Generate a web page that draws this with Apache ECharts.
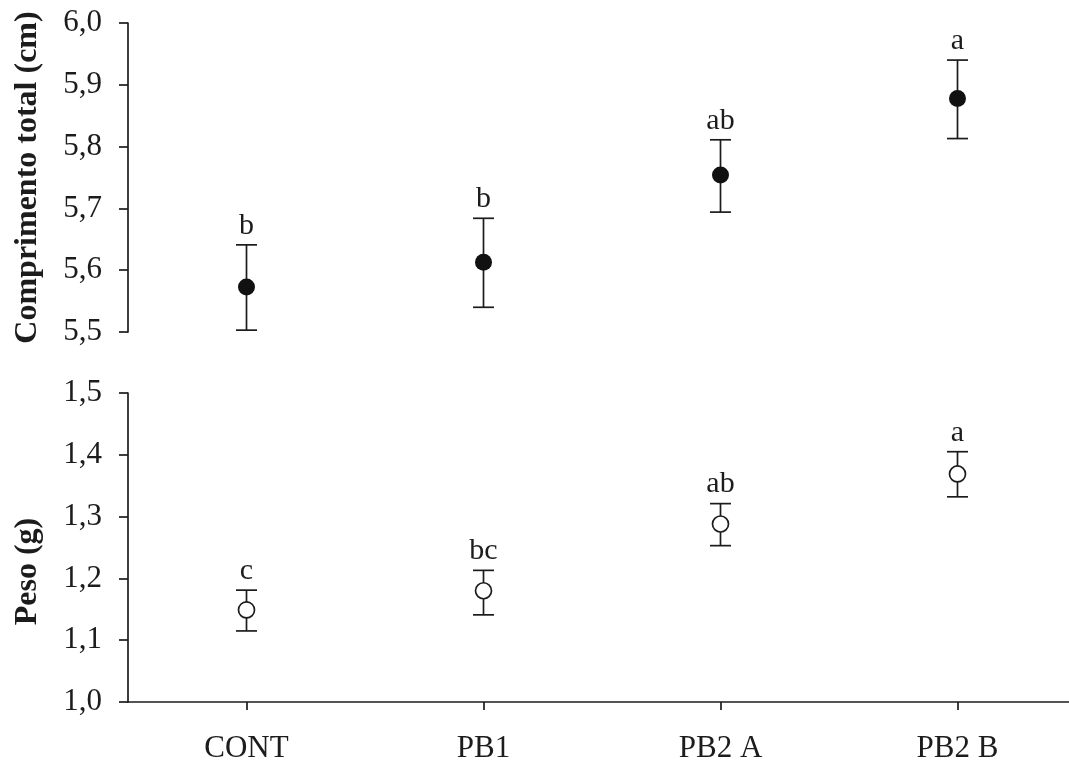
<!DOCTYPE html>
<html>
<head>
<meta charset="utf-8">
<script src="https://cdn.jsdelivr.net/npm/echarts@6/dist/echarts.min.js"></script>
<style>html,body{margin:0;padding:0;background:#fff}#c{width:1069px;height:760px}</style>
</head>
<body>
<div id="c"></div>
<script>
const categories = ['CONT', 'PB1', 'PB2 A', 'PB2 B'];
const lengthMean = [5.573, 5.613, 5.754, 5.878];
const lengthUpper = [5.641, 5.684, 5.811, 5.940];
const lengthLower = [5.503, 5.540, 5.694, 5.813];
const lengthLetters = ['b', 'b', 'ab', 'a'];
const weightMean = [1.149, 1.180, 1.288, 1.369];
const weightUpper = [1.181, 1.213, 1.321, 1.405];
const weightLower = [1.115, 1.141, 1.253, 1.332];
const weightLetters = ['c', 'bc', 'ab', 'a'];
const lengthAxis = { min: 5.5, max: 6.0, interval: 0.1, name: 'Comprimento total (cm)' };
const weightAxis = { min: 1.0, max: 1.5, interval: 0.1, name: 'Peso (g)' };

const INK = '#1c1c1c';
const FONT = '"Liberation Serif", "Times New Roman", serif';
const chart = echarts.init(document.getElementById('c'));

function errRender(letters) {
  return function (params, api) {
    const x = api.value(0);
    const hi = api.coord([x, api.value(1)]);
    const lo = api.coord([x, api.value(2)]);
    const hw = 10.5;
    const st = { stroke: INK, lineWidth: 1.7 };
    return {
      type: 'group',
      children: [
        { type: 'line', shape: { x1: hi[0], y1: hi[1], x2: lo[0], y2: lo[1] }, style: st },
        { type: 'line', shape: { x1: hi[0] - hw, y1: hi[1], x2: hi[0] + hw, y2: hi[1] }, style: st },
        { type: 'line', shape: { x1: lo[0] - hw, y1: lo[1], x2: lo[0] + hw, y2: lo[1] }, style: st },
        { type: 'text', style: { text: letters[params.dataIndex], x: hi[0], y: hi[1] - 4, align: 'center', verticalAlign: 'bottom', fontSize: 30, fontFamily: FONT, fill: INK } }
      ]
    };
  };
}

function yAx(gi, ax, namePad) {
  return {
    type: 'value', gridIndex: gi, min: ax.min, max: ax.max, interval: ax.interval,
    name: ax.name, nameLocation: 'middle', nameGap: 84,
    nameTextStyle: { fontFamily: FONT, fontWeight: 'bold', fontSize: 32, color: INK, padding: namePad },
    axisLine: { show: true, lineStyle: { color: INK, width: 1.7 } },
    axisTick: { show: true, length: 9, lineStyle: { color: INK, width: 1.7 } },
    axisLabel: { fontFamily: FONT, fontSize: 31, color: INK, margin: 26, formatter: v => v.toFixed(1).replace('.', ',') },
    splitLine: { show: false }
  };
}

const option = {
  animation: false,
  backgroundColor: '#fff',
  grid: [
    { left: 128, top: 23, height: 309, width: 948, outerBoundsMode: 'none', containLabel: false },
    { left: 128, top: 393, height: 309, width: 948, outerBoundsMode: 'none', containLabel: false }
  ],
  xAxis: [
    { type: 'category', gridIndex: 0, data: categories, show: false },
    {
      type: 'category', gridIndex: 1, data: categories,
      axisLine: { show: true, lineStyle: { color: INK, width: 1.7 } },
      axisTick: { show: true, alignWithLabel: true, length: 8, lineStyle: { color: INK, width: 1.7 } },
      axisLabel: { fontFamily: FONT, fontSize: 31, color: INK, margin: 31 },
      splitLine: { show: false }
    }
  ],
  yAxis: [yAx(0, lengthAxis, [0, 0, 0, 0]), yAx(1, weightAxis, [0, 48, 0, 0])],
  series: [
    {
      type: 'custom', xAxisIndex: 0, yAxisIndex: 0, z: 2,
      renderItem: errRender(lengthLetters),
      data: categories.map((c, i) => [i, lengthUpper[i], lengthLower[i]])
    },
    {
      type: 'scatter', xAxisIndex: 0, yAxisIndex: 0, z: 3,
      symbol: 'circle', symbolSize: 17,
      itemStyle: { color: '#111', opacity: 1 },
      data: lengthMean
    },
    {
      type: 'custom', xAxisIndex: 1, yAxisIndex: 1, z: 2,
      renderItem: errRender(weightLetters),
      data: categories.map((c, i) => [i, weightUpper[i], weightLower[i]])
    },
    {
      type: 'scatter', xAxisIndex: 1, yAxisIndex: 1, z: 3,
      symbol: 'circle', symbolSize: 16,
      itemStyle: { color: '#fff', borderColor: INK, borderWidth: 1.7, opacity: 1 },
      data: weightMean
    }
  ]
};
chart.setOption(option);
</script>
</body>
</html>
